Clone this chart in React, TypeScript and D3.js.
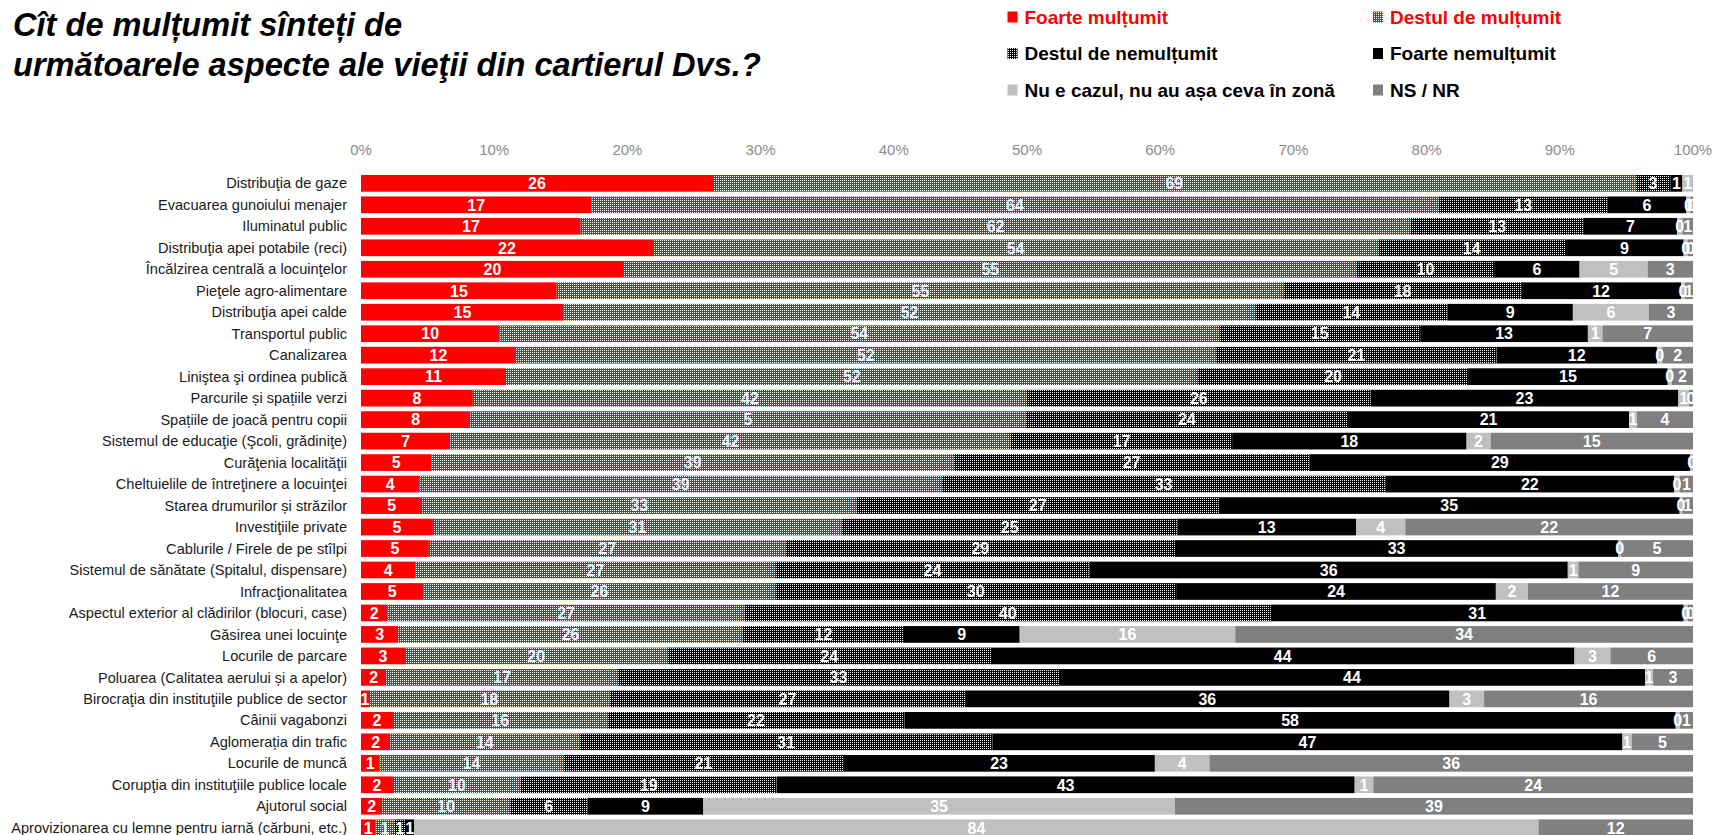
import React from 'react';
import * as d3 from 'd3';

const titleLines = ['Cît de mulțumit sînteți de', 'următoarele aspecte ale vieţii din cartierul Dvs.?'];

const categories = [
  'Distribuţia de gaze',
  'Evacuarea gunoiului menajer',
  'Iluminatul public',
  'Distribuţia apei potabile (reci)',
  'Încălzirea centrală a locuinţelor',
  'Pieţele agro-alimentare',
  'Distribuţia apei calde',
  'Transportul public',
  'Canalizarea',
  'Liniştea şi ordinea publică',
  'Parcurile și spațiile verzi',
  'Spațiile de joacă pentru copii',
  'Sistemul de educaţie (Şcoli, grădiniţe)',
  'Curăţenia localităţii',
  'Cheltuielile de întreţinere a locuinţei',
  'Starea drumurilor și străzilor',
  'Investiţiile private',
  'Cablurile / Firele de pe stîlpi',
  'Sistemul de sănătate (Spitalul, dispensare)',
  'Infracţionalitatea',
  'Aspectul exterior al clădirilor (blocuri, case)',
  'Găsirea unei locuinţe',
  'Locurile de parcare',
  'Poluarea (Calitatea aerului și a apelor)',
  'Birocraţia din instituţiile publice de sector',
  'Câinii vagabonzi',
  'Aglomerația din trafic',
  'Locurile de muncă',
  'Corupţia din instituţiile publice locale',
  'Ajutorul social',
  'Aprovizionarea cu lemne pentru iarnă (cărbuni, etc.)',
];

const foarteMultumit = [26.4, 17.3, 16.5, 21.9, 19.7, 14.7, 15.2, 10.4, 11.6, 10.9, 8.4, 8.2, 6.7, 5.3, 4.4, 4.6, 5.4, 5.1, 4.1, 4.7, 2.0, 2.8, 3.3, 1.9, 0.6, 2.4, 2.2, 1.4, 2.4, 1.6, 1.1];
const destulMultumit = [69.2, 63.6, 62.3, 54.4, 54.9, 54.6, 51.8, 54.1, 52.4, 52.0, 41.6, 41.7, 42.1, 39.2, 39.2, 32.6, 30.7, 26.8, 27.0, 26.4, 26.8, 25.9, 19.7, 17.4, 18.1, 16.1, 14.2, 13.8, 9.6, 9.6, 1.4];
const destulNemultumit = [2.6, 12.7, 13.0, 14.0, 10.3, 17.8, 14.4, 15.1, 21.0, 20.3, 25.8, 24.2, 16.6, 26.7, 33.3, 27.2, 25.2, 29.2, 23.6, 30.1, 39.5, 12.1, 24.3, 33.1, 26.7, 22.3, 31.0, 21.0, 19.2, 5.8, 0.8];
const foarteNemultumit = [0.9, 5.9, 7.0, 8.9, 6.4, 12.0, 9.4, 12.6, 12.0, 15.0, 23.1, 21.1, 17.6, 28.6, 21.7, 34.6, 13.4, 33.3, 35.9, 24.0, 31.0, 8.7, 43.8, 44.0, 36.4, 57.9, 47.3, 23.4, 43.4, 8.7, 0.7];
const nuECazul = [0.8, 0.3, 0.4, 0.3, 5.1, 0.3, 5.7, 1.1, 0.4, 0.3, 0.8, 0.6, 1.8, 0.2, 0.4, 0.2, 3.7, 0.2, 0.8, 2.4, 0.3, 16.2, 2.7, 0.6, 2.6, 0.3, 0.7, 4.1, 1.4, 35.4, 84.4];
const nsNr = [0, 0.2, 0.8, 0.4, 3.4, 0.6, 3.3, 6.8, 2.3, 1.6, 0.3, 4.2, 15.2, 0, 1.0, 0.8, 21.6, 5.4, 8.6, 12.4, 0.4, 34.4, 6.2, 3.0, 15.7, 1.0, 4.6, 36.3, 24.0, 38.9, 11.6];

// the source shows "5" on this segment
const labelOverrides: Record<string, string> = { 'Spațiile de joacă pentru copii|dm': '5' };

const seriesKeys = ['fm', 'dm', 'dn', 'fn', 'nc', 'ns'];
const seriesNames = ['Foarte mulțumit', 'Destul de mulțumit', 'Destul de nemulțumit', 'Foarte nemulțumit', 'Nu e cazul, nu au așa ceva în zonă', 'NS / NR'];
const seriesValues = [foarteMultumit, destulMultumit, destulNemultumit, foarteNemultumit, nuECazul, nsNr];
const fills = ['#ff0000', 'url(#patRed)', 'url(#patDark)', '#000000', '#c0c0c0', '#808080'];
const legendText = ['#ff0000', '#ff0000', '#000000', '#000000', '#000000', '#000000'];

const tickValues = [0, 0.1, 0.2, 0.3, 0.4, 0.5, 0.6, 0.7, 0.8, 0.9, 1];

const font = '"Liberation Sans", Arial, sans-serif';

export default function App() {
  const width = 1724;
  const height = 835;
  const x0 = 361;
  const x1 = 1693;

  const rows = categories.map((c, i) => {
    const r: any = { cat: c };
    seriesKeys.forEach((k, j) => (r[k] = seriesValues[j][i]));
    return r;
  });

  const stack = d3.stack<any>().keys(seriesKeys).offset(d3.stackOffsetExpand);
  const stacked = stack(rows);

  const x = d3.scaleLinear().domain([0, 1]).range([x0, x1]);
  const y = d3.scaleBand<string>()
    .domain(categories)
    .range([172.6, 838.5])
    .paddingInner(0.222)
    .paddingOuter(0.111);

  const bw = y.bandwidth();

  return (
    <svg
      width={width}
      height={height}
      style={{ position: 'absolute', left: 0, top: 0, display: 'block', background: '#fff' }}
      fontFamily={font}
    >
      <defs>
        <pattern id="patRed" width={2} height={2} patternUnits="userSpaceOnUse">
          <rect width={2} height={2} fill="#ff0000" />
          <rect width={1} height={1} fill="#ffffff" />
        </pattern>
        <pattern id="patDark" width={2} height={2} patternUnits="userSpaceOnUse">
          <rect width={2} height={2} fill="#000000" />
          <rect width={1} height={1} fill="#ffffff" />
        </pattern>
      </defs>

      {/* title */}
      <g fontWeight="bold" fontStyle="italic" fontSize={32.6} fill="#000">
        {titleLines.map((t, i) => (
          <text key={i} x={13} y={36 + i * 40}>{t}</text>
        ))}
      </g>

      {/* legend */}
      <g fontWeight="bold" fontSize={19}>
        {seriesNames.map((name, i) => {
          const col = i % 2;
          const row = Math.floor(i / 2);
          const lx = col === 0 ? 1007.5 : 1373;
          const ly = 23.5 + row * 36.5;
          return (
            <g key={name}>
              <rect x={lx} y={ly - 12} width={10} height={11} fill={fills[i]} />
              <text x={lx + 17} y={ly} fill={legendText[i]}>{name}</text>
            </g>
          );
        })}
      </g>

      {/* x axis ticks */}
      <g fontSize={15} fill="#8c8c8c" textAnchor="middle">
        {tickValues.map((t) => (
          <text key={t} x={x(t)} y={155}>{d3.format('.0%')(t)}</text>
        ))}
      </g>

      {/* category labels */}
      <g fontSize={14.6} fill="#1a1a1a" textAnchor="end">
        {categories.map((c) => (
          <text key={c} x={347} y={(y(c) as number) + bw / 2} dy="0.35em">{c}</text>
        ))}
      </g>

      {/* bars */}
      {stacked.map((s, si) => (
        <g key={s.key} fill={fills[si]}>
          {s.map((d) => (
            <rect
              key={d.data.cat}
              x={x(d[0])}
              y={y(d.data.cat)}
              width={Math.max(0, x(d[1]) - x(d[0]))}
              height={bw}
            />
          ))}
        </g>
      ))}

      {/* value labels */}
      <g fontSize={16} fontWeight="bold" fill="#ffffff" textAnchor="middle">
        {stacked.map((s, si) =>
          s.map((d) => {
            const v = seriesValues[si][categories.indexOf(d.data.cat)];
            if (v <= 0) return null;
            const label = labelOverrides[`${d.data.cat}|${s.key}`] ?? String(Math.round(v));
            return (
              <text
                key={`${s.key}-${d.data.cat}`}
                x={(x(d[0]) + x(d[1])) / 2}
                y={(y(d.data.cat) as number) + bw / 2}
                dy="0.36em"
              >
                {label}
              </text>
            );
          })
        )}
      </g>
    </svg>
  );
}
